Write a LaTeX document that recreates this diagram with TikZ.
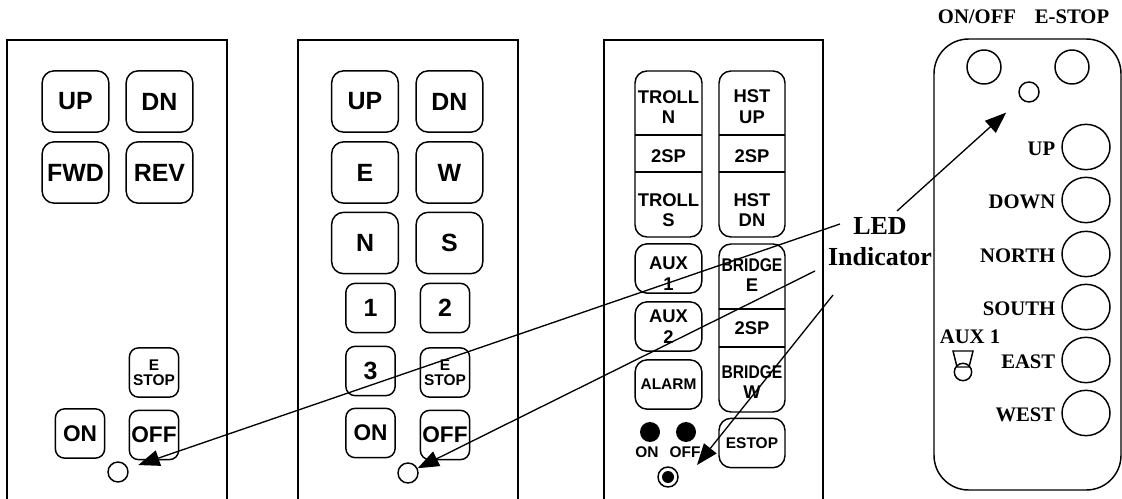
\documentclass[tikz,border=0pt]{standalone}
\usepackage{fontspec}
\setmainfont{Liberation Serif}
\setsansfont{Liberation Sans}
\usetikzlibrary{arrows.meta,shapes.geometric}

\begin{document}
\begin{tikzpicture}[x=0.75pt, y=-0.75pt, line width=1.1pt,
    btn/.style={draw, rounded corners=9pt, minimum width=50pt, minimum height=46pt,
        inner sep=0pt, align=center, font=\sffamily\bfseries\fontsize{18.7}{20}\selectfont},
    sbtn/.style={btn, rounded corners=7pt, minimum width=37pt, minimum height=37pt},
    pbtn/.style={btn, minimum height=37pt, font=\sffamily\bfseries\fontsize{13.8}{16}\selectfont},
    onoff/.style={font=\sffamily\bfseries\fontsize{17}{18}\selectfont},
    tiny/.style={font=\sffamily\bfseries\fontsize{11.6}{11.3}\selectfont},
    sec/.style={align=center, inner sep=0pt, font=\sffamily\bfseries\fontsize{13.8}{15.5}\selectfont},
    word/.style={inner sep=0pt, font=\bfseries\fontsize{15.5}{17}\selectfont},
    led/.style={circle, draw, minimum size=15pt, inner sep=0pt},
    rbtn/.style={ellipse, draw, minimum width=36pt, minimum height=34pt, inner sep=0pt},
    >={Triangle[length=16pt,width=12pt]} % filled heads
]
    \useasboundingbox (0,0) rectangle (1122,499);

    % panel 1
    \draw (7,499) |- (227,40) -- (227,499);
    \node[btn] (p1up) at (75.5,101.5) {UP};
    \node[btn] (p1dn) at (159.5,101.5) {DN};
    \node[btn] (p1fwd) at (75.5,172.5) {FWD};
    \node[btn] (p1rev) at (159.5,172.5) {REV};
    \node[sbtn, tiny] (p1estop) at (154,372.5) {E\\STOP};
    \node[sbtn, onoff] (p1on) at (80,433.5) {ON};
    \node[sbtn, onoff] (p1off) at (154,435) {OFF};
    \node[led] (p1led) at (118,472) {};

    % panel 2
    \draw (298,499) |- (518,40) -- (518,499);
    \node[btn] (p2up) at (365,101.5) {UP};
    \node[btn] (p2dn) at (449.5,101.5) {DN};
    \node[btn] (p2e) at (365,172.5) {E};
    \node[btn] (p2w) at (449.5,172.5) {W};
    \node[btn] (p2n) at (365,243) {N};
    \node[btn] (p2s) at (449.5,243) {S};
    \node[sbtn] (p2one) at (370.5,308) {1};
    \node[sbtn] (p2two) at (445,308) {2};
    \node[sbtn] (p2three) at (370.5,371) {3};
    \node[sbtn, tiny] (p2estop) at (445,372.5) {E\\STOP};
    \node[sbtn, onoff] (p2on) at (370.5,433) {ON};
    \node[sbtn, onoff] (p2off) at (445,435) {OFF};
    \node[led] (p2led) at (408,473) {};

    % panel 3
    \draw (604,499) |- (823,40) -- (823,499);
    \draw[rounded corners=9pt] (635,71) rectangle (702,237);
    \draw[rounded corners=9pt] (719,71) rectangle (785,237);
    \draw[rounded corners=9pt] (719,244) rectangle (785,412);
    \draw[line width=2.2pt] (635,135) -- (702,135) (635,172) -- (702,172);
    \draw[line width=2.2pt] (719,135) -- (785,135) (719,172) -- (785,172);
    \draw[line width=2.2pt] (719,309) -- (785,309) (719,347) -- (785,347);
    \node[sec] (trolln) at (668.5,107) {TROLL\\N};
    \node[sec] (lsp) at (668.5,156) {2SP};
    \node[sec] (trolls) at (668.5,210) {TROLL\\S};
    \node[sec] (hstup) at (752,107) {HST\\UP};
    \node[sec] (rsp) at (752,156) {2SP};
    \node[sec] (hstdn) at (752,210) {HST\\DN};
    \node[sec] (bridgee) at (752,275) {\scalebox{0.85}[1]{BRIDGE}\\E};
    \node[sec] (bsp) at (752,328) {2SP};
    \node[sec] (bridgew) at (752,382) {\scalebox{0.85}[1]{BRIDGE}\\W};
    \node[pbtn] (aux1) at (668.5,268.5) {};
    \node[sec] (aux1txt) at ([yshift=-4pt]aux1.center) {AUX\\1};
    \node[pbtn] (aux2) at (668.5,326.5) {AUX\\2};
    \node[pbtn, tiny] (alarm) at (668.5,384.5) {ALARM};
    \node[pbtn, tiny, minimum width=49.5pt] (estop) at (752,443) {ESTOP};
    \node[circle, fill, minimum size=15pt, inner sep=0pt] (ondot) at (650,432) {};
    \node[circle, fill, minimum size=15pt, inner sep=0pt] (offdot) at (686,432) {};
    \node[tiny, inner sep=0pt] (ontxt) at (647,452) {ON};
    \node[tiny, inner sep=0pt] (offtxt) at (685,452) {OFF};
    \node[led] (p3led) at (668,477) {};
    \fill (p3led.center) circle (4.5pt);

    % panel 4
    \draw[rounded corners=26pt] (934,39) rectangle (1121,490);
    \node[word] (onofflbl) at (977,17) {ON/OFF};
    \node[word] (estoplbl) at (1072,17) {E-STOP};
    \node[circle, draw, minimum size=25.5pt] (onoffbtn) at (984,67) {};
    \node[circle, draw, minimum size=25.5pt] (estopbtn) at (1072,67) {};
    \node[led] (p4led) at (1029,92) {};
    \foreach \y/\t/\n in {147/UP/up, 200/DOWN/down, 254/NORTH/north,
                          307/SOUTH/south, 360/EAST/east, 413/WEST/west} {
        \node[rbtn] (\n) at (1086,\y) {};
        \node[word, anchor=east] (lbl\n) at (1056,\y+2) {\t};
    }
    \node[word] (auxlbl) at (970,337) {AUX 1};
    \draw (953,351) -- (973,351) -- (969,367) -- (957,367) -- cycle;
    \draw (963,372) circle (6.5pt);

    % LED callouts
    \node[align=center, inner sep=0pt, font=\bfseries\fontsize{19.5}{23.25}\selectfont]
        (ledlbl) at (880,242) {LED\\Indicator};
    \coordinate (s1) at (840,224);
    \coordinate (s2) at (815,271);
    \coordinate (s3) at (833,295);
    \coordinate (s4) at (897,211);
    \coordinate (p3aim) at (697,465);
    \draw[->, line width=1pt, shorten >=8pt] (s1) -- (p1led);
    \draw[->, line width=1pt] (s2) -- (p2led);
    \draw[->, line width=1pt] (s3) -- (p3aim);
    \draw[->, line width=1pt, shorten >=15pt] (s4) -- (p4led);
\end{tikzpicture}
\end{document}
